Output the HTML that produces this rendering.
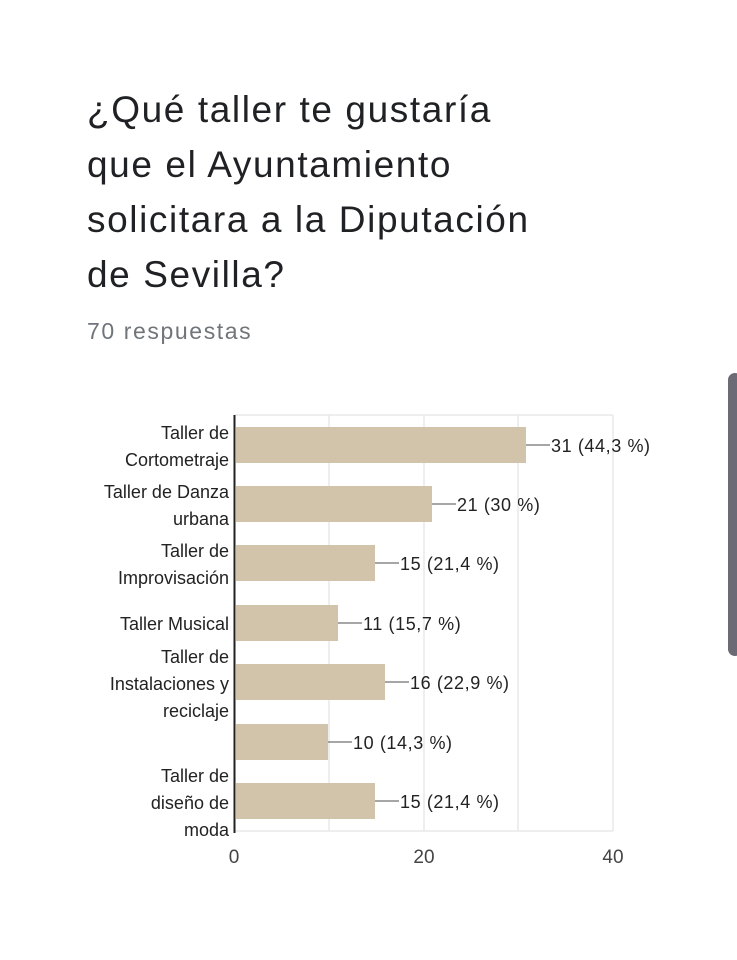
<!DOCTYPE html>
<html><head><meta charset="utf-8"><style>
body{margin:0;width:737px;height:960px;background:#fff;position:relative;overflow:hidden;font-family:"Liberation Sans",sans-serif;}
.t{position:absolute;left:87px;top:82px;font-size:37px;line-height:55px;color:#202124;letter-spacing:1.6px;}
.r{position:absolute;left:87px;top:318px;font-size:23px;color:#70757a;letter-spacing:1.6px;}
.sb{position:absolute;left:728px;top:373px;width:14px;height:283px;background:#6b6a75;border-radius:7px;}
</style></head><body>
<div class="t">¿Qué taller te gustaría<br>que el Ayuntamiento<br>solicitara a la Diputación<br>de Sevilla?</div>
<div class="r">70 respuestas</div>
<div class="sb"></div>
<svg width="737" height="960" style="position:absolute;left:0;top:0" font-family="Liberation Sans, sans-serif">
<g stroke="#e8e8e8" stroke-width="1.5" fill="none">
<line x1="235" y1="415" x2="613" y2="415"/><line x1="235" y1="831" x2="613" y2="831"/>
<line x1="329" y1="415" x2="329" y2="831"/><line x1="424" y1="415" x2="424" y2="831"/>
<line x1="518" y1="415" x2="518" y2="831"/><line x1="613" y1="415" x2="613" y2="831"/>
</g>
<g fill="#d1c4aa">
<rect x="236" y="427" width="290" height="36"/>
<rect x="236" y="486" width="196" height="36"/>
<rect x="236" y="545" width="139" height="36"/>
<rect x="236" y="605" width="102" height="36"/>
<rect x="236" y="664" width="149" height="36"/>
<rect x="236" y="724" width="92" height="36"/>
<rect x="236" y="783" width="139" height="36"/>
</g>
<line x1="234.5" y1="415" x2="234.5" y2="833" stroke="#222" stroke-width="2"/>
<g stroke="#888" stroke-width="1.5">
<line x1="526" y1="445" x2="550" y2="445"/><line x1="432" y1="504" x2="456" y2="504"/>
<line x1="375" y1="563" x2="399" y2="563"/><line x1="338" y1="623" x2="362" y2="623"/>
<line x1="385" y1="682" x2="409" y2="682"/><line x1="328" y1="742" x2="352" y2="742"/>
<line x1="375" y1="801" x2="399" y2="801"/>
</g>
<g font-size="18" fill="#222" letter-spacing="0.6">
<text x="551" y="452">31 (44,3 %)</text><text x="457" y="511">21 (30 %)</text>
<text x="400" y="570">15 (21,4 %)</text><text x="363" y="630">11 (15,7 %)</text>
<text x="410" y="689">16 (22,9 %)</text><text x="353" y="749">10 (14,3 %)</text>
<text x="400" y="808">15 (21,4 %)</text>
</g>
<g font-size="18" fill="#222" text-anchor="end">
<text x="229" y="439">Taller de</text><text x="229" y="466">Cortometraje</text>
<text x="229" y="498">Taller de Danza</text><text x="229" y="525">urbana</text>
<text x="229" y="557">Taller de</text><text x="229" y="584">Improvisación</text>
<text x="229" y="630">Taller Musical</text>
<text x="229" y="663">Taller de</text><text x="229" y="690">Instalaciones y</text><text x="229" y="717">reciclaje</text>
<text x="229" y="782">Taller de</text><text x="229" y="809">diseño de</text><text x="229" y="836">moda</text>
</g>
<g font-size="19" fill="#444" text-anchor="middle">
<text x="234" y="863">0</text><text x="424" y="863">20</text><text x="613" y="863">40</text>
</g>
</svg>
</body></html>
